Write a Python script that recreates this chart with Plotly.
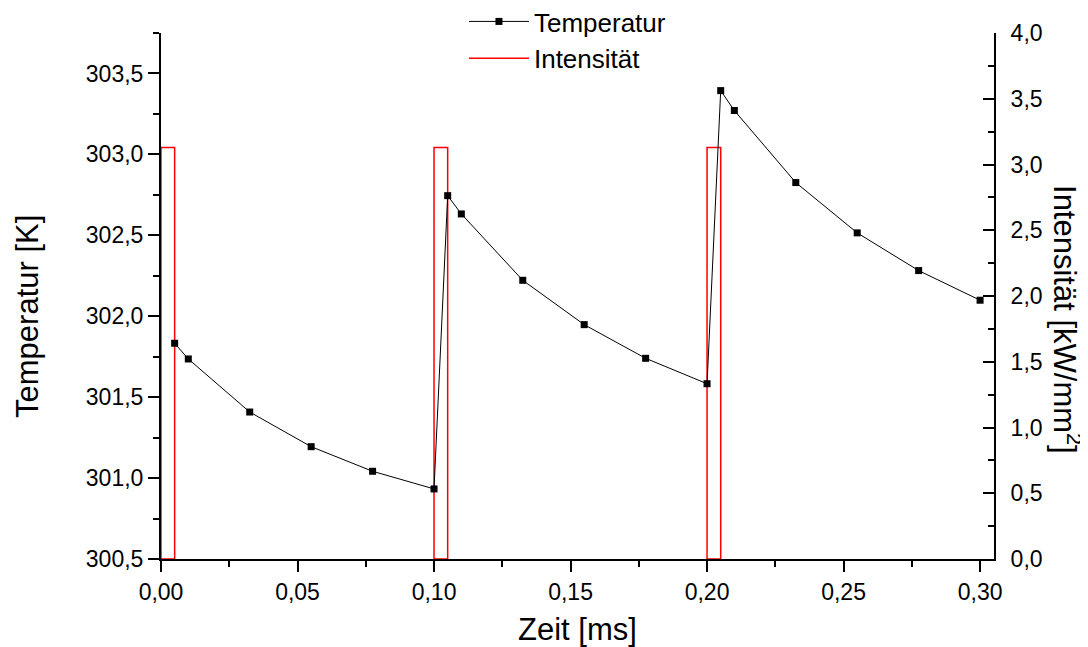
import plotly.graph_objects as go

# Temperature series
time_ms = [0.005, 0.01, 0.0325, 0.055, 0.0775, 0.1, 0.105, 0.11, 0.1325, 0.155,
           0.1775, 0.2, 0.205, 0.21, 0.2325, 0.255, 0.2775, 0.3]
temperature_K = [301.833, 301.736, 301.408, 301.194, 301.042, 300.933, 302.745,
                 302.632, 302.222, 301.948, 301.740, 301.583, 303.394, 303.271,
                 302.826, 302.515, 302.282, 302.099]

# Intensity pulses
pulse_start = [0.0, 0.1, 0.2]
pulse_end = [0.005, 0.105, 0.205]
pulse_level = [3.13, 3.13, 3.13]

# build closed rectangles from pulses
ix, iy = [], []
for s, e, lv in zip(pulse_start, pulse_end, pulse_level):
    ix += [s, s, e, e, s, None]
    iy += [0, lv, lv, 0, 0, None]

FONT = "Liberation Sans, Arial, sans-serif"

fig = go.Figure()
fig.add_trace(go.Scatter(
    x=time_ms, y=temperature_K, name="Temperatur", yaxis="y2",
    mode="lines+markers", legendgroup="a",
    line=dict(color="black", width=1),
    marker=dict(symbol="square", size=7, color="black"),
))
fig.add_trace(go.Scatter(
    x=ix, y=iy, name="Intensität", yaxis="y", legendgroup="b",
    mode="lines", connectgaps=False,
    line=dict(color="#ff0000", width=1.5),
))

tickfont = dict(family=FONT, size=23, color="black")

fig.update_layout(
    width=1080, height=639,
    paper_bgcolor="white", plot_bgcolor="white",
    separators=",.",
    margin=dict(l=153, r=94, t=25, b=88, autoexpand=False),
    showlegend=True,
    legend=dict(x=0.3637, y=1.0665, xanchor="left", yanchor="top",
                font=dict(family=FONT, size=26, color="black"),
                bgcolor="rgba(0,0,0,0)", tracegroupgap=0, itemwidth=60),
    xaxis=dict(
        range=[0, 0.3051], tick0=0, dtick=0.05, tickformat=".2f",
        showgrid=False, zeroline=False, showline=True, linecolor="black", linewidth=2,
        ticks="outside", ticklen=11, tickwidth=2, tickcolor="black",
        minor=dict(dtick=0.025, ticks="outside", ticklen=6, tickwidth=2, tickcolor="black"),
        tickfont=tickfont, layer="below traces",
    ),
    yaxis=dict(
        side="right", range=[0, 4.0], tick0=0, dtick=0.5, tickformat=".1f",
        showgrid=False, zeroline=False, showline=True, linecolor="black", linewidth=2,
        ticks="inside", ticklen=11, tickwidth=2, tickcolor="black",
        minor=dict(dtick=0.25, ticks="inside", ticklen=6, tickwidth=2, tickcolor="black"),
        tickfont=tickfont, ticklabelstandoff=10, layer="below traces",
    ),
    yaxis2=dict(
        side="left", overlaying="y", range=[300.5, 303.75], tick0=300.5, dtick=0.5,
        tickformat=".1f",
        showgrid=False, zeroline=False, showline=True, linecolor="black", linewidth=2,
        ticks="outside", ticklen=11, tickwidth=2, tickcolor="black",
        minor=dict(dtick=0.25, ticks="outside", ticklen=6, tickwidth=2, tickcolor="black"),
        tickfont=tickfont, layer="below traces",
    ),
    annotations=[
        dict(text="Zeit [ms]", xref="paper", yref="paper", x=0.5, y=-0.134,
             showarrow=False, font=dict(family=FONT, size=31, color="black"),
             xanchor="center", yanchor="middle"),
        dict(text="Temperatur [K]", xref="paper", yref="paper", x=-0.1597, y=0.462,
             showarrow=False, textangle=-90, font=dict(family=FONT, size=31, color="black"),
             xanchor="center", yanchor="middle"),
        dict(text="Intensität [kW/mm<sup>2</sup>]", xref="paper", yref="paper",
             x=1.0876, y=0.4544, showarrow=False, textangle=90,
             font=dict(family=FONT, size=31, color="black"),
             xanchor="center", yanchor="middle"),
    ],
)

fig.write_html("out.html")
